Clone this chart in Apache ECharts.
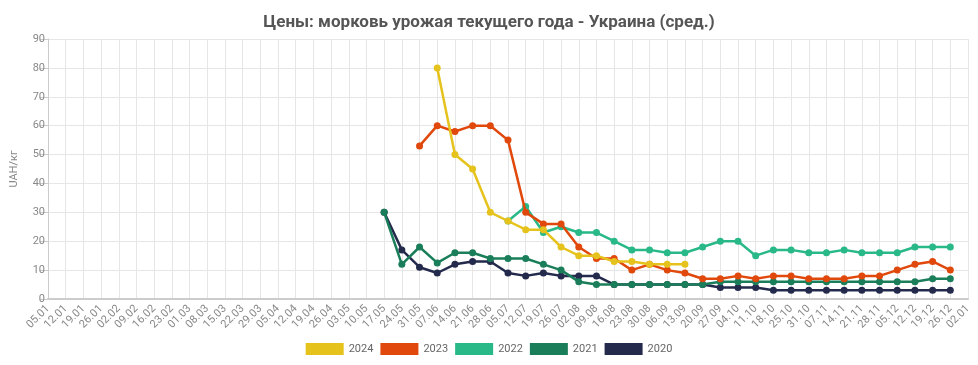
<!DOCTYPE html>
<html><head><meta charset="utf-8">
<script src="https://cdn.jsdelivr.net/npm/echarts@6/dist/echarts.min.js"></script>
<style>html,body{margin:0;padding:0;background:#fff}#c{width:978px;height:365px}</style>
</head><body><div id="c"></div>
<script>
const categories = ["05.01","12.01","19.01","26.01","02.02","09.02","16.02","23.02","01.03","08.03","15.03","22.03","29.03","05.04","12.04","19.04","26.04","03.05","10.05","17.05","24.05","31.05","07.06","14.06","21.06","28.06","05.07","12.07","19.07","26.07","02.08","09.08","16.08","23.08","30.08","06.09","13.09","20.09","27.09","04.10","11.10","18.10","25.10","31.10","07.11","14.11","21.11","28.11","05.12","12.12","19.12","26.12","02.01"];
const seriesNames = ["2024","2023","2022","2021","2020"];
const colors = ["#e6c31c","#e0480c","#29b887","#1b7e5a","#232a4c"];
// start category for each series
const start2024 = "07.06";
const v2024 = [80,50,45,30,27,24,24,18,15,15,13,13,12,12,12];
const start2023 = "31.05";
const v2023 = [53,60,58,60,60,55,30,26,26,18,14,14,10,12,10,9,7,7,8,7,8,8,7,7,7,8,8,10,12,13,10];
const start2022 = "05.07";
const v2022 = [27,32,23,25,23,23,20,17,17,16,16,18,20,20,15,17,17,16,16,17,16,16,16,18,18,18];
const start2021 = "17.05";
const v2021 = [30,12,18,12.5,16,16,14,14,14,12,10,6,5,5,5,5,5,5,5,6,6,6,6,6,6,6,6,6,6,6,6,7,7];
const start2020 = "17.05";
const v2020 = [30,17,11,9,12,13,13,9,8,9,8,8,8,5,5,5,5,5,5,4,4,4,3,3,3,3,3,3,3,3,3,3,3];
const yTicks = [0,10,20,30,40,50,60,70,80,90];

function pad(startCat, vals){
  const out = categories.map(()=>null);
  const s = categories.indexOf(startCat);
  vals.forEach((v,i)=>{ out[s+i]=v; });
  return out;
}
const allData = [pad(start2024,v2024),pad(start2023,v2023),pad(start2022,v2022),pad(start2021,v2021),pad(start2020,v2020)];

const chart = echarts.init(document.getElementById('c'), null, {renderer:'canvas'});
chart.setOption({
  animation:false,
  backgroundColor:'#fff',
  title:{text:'Цены: морковь урожая текущего года - Украина (сред.)',left:'center',top:9,
    textStyle:{fontFamily:'Roboto',fontSize:17,fontWeight:'bold',color:'#555'}},
  legend:{data:seriesNames,bottom:5,left:'center',itemWidth:38,itemHeight:12,itemGap:7,
    icon:'rect',textStyle:{fontFamily:'Roboto',fontSize:11,color:'#666'}},
  grid:{left:48,right:10,top:39,bottom:66},
  xAxis:{type:'category',data:categories,boundaryGap:false,
    axisLine:{lineStyle:{color:'#ccc',width:2}},
    axisTick:{show:false},
    axisLabel:{rotate:45,fontFamily:'Roboto',fontSize:11,color:'#888',interval:0,margin:8},
    splitLine:{show:true,lineStyle:{color:'#e6e6e6'}}},
  yAxis:{type:'value',min:yTicks[0],max:yTicks[yTicks.length-1],interval:10,
    name:'UAH/кг',nameLocation:'middle',nameGap:28,
    nameTextStyle:{fontFamily:'Roboto',fontSize:11,color:'#888'},
    axisLine:{show:true,lineStyle:{color:'#ccc'}},
    axisTick:{show:true,length:8,lineStyle:{color:'#ccc'}},
    axisLabel:{fontFamily:'Roboto',fontSize:11,color:'#888',margin:3},
    splitLine:{lineStyle:{color:'#e6e6e6'}}},
  series: seriesNames.map((n,i)=>({
    name:n,type:'line',data:allData[i],z:10-i,
    symbol:'circle',symbolSize:7,connectNulls:false,
    lineStyle:{width:2.5,color:colors[i]},
    itemStyle:{color:colors[i]}
  }))
});
</script></body></html>
